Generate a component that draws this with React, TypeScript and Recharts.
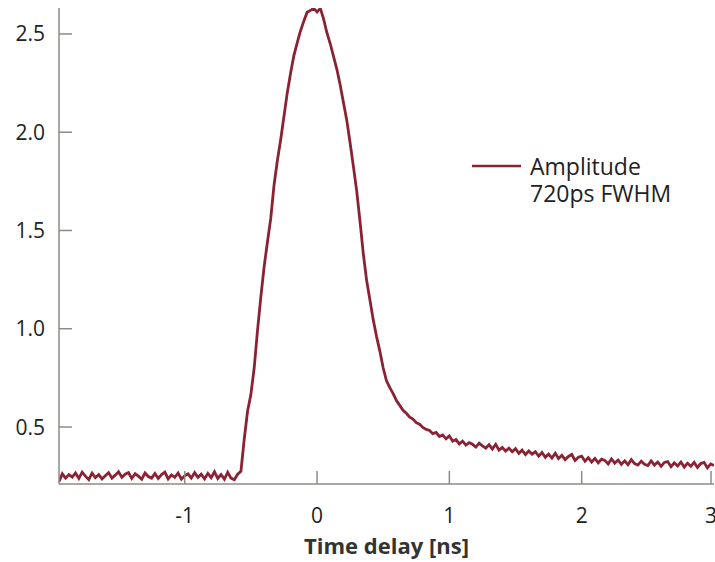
import React from 'react';
import { LineChart, Line, XAxis, YAxis, Legend } from 'recharts';

// sample grid of the time axis (ns)
const timeStart = -1.95;
const timeStep = 0.025;

// measured amplitude at each sample
const amplitude: number[] = [
  0.222, 0.262, 0.240, 0.258, 0.245, 0.266, 0.238, 0.270, 0.250, 0.232,
  0.265, 0.242, 0.258, 0.236, 0.252, 0.268, 0.240, 0.255, 0.272, 0.244,
  0.260, 0.268, 0.238, 0.262, 0.250, 0.234, 0.266, 0.248, 0.240, 0.264,
  0.238, 0.258, 0.270, 0.236, 0.256, 0.244, 0.266, 0.235, 0.252, 0.262,
  0.240, 0.268, 0.244, 0.260, 0.236, 0.264, 0.242, 0.272, 0.238, 0.258,
  0.234, 0.270, 0.240, 0.232, 0.260, 0.275, 0.440, 0.580, 0.665, 0.800,
  0.990, 1.160, 1.315, 1.440, 1.560, 1.730, 1.855, 1.960, 2.080, 2.200,
  2.300, 2.390, 2.455, 2.515, 2.565, 2.610, 2.620, 2.630, 2.612, 2.630,
  2.575, 2.505, 2.450, 2.385, 2.320, 2.240, 2.150, 2.060, 1.945, 1.825,
  1.700, 1.545, 1.380, 1.245, 1.145, 1.045, 0.960, 0.885, 0.800, 0.735,
  0.700, 0.670, 0.635, 0.610, 0.585, 0.570, 0.550, 0.540, 0.522, 0.514,
  0.498, 0.488, 0.482, 0.466, 0.472, 0.452, 0.460, 0.440, 0.455, 0.428,
  0.436, 0.414, 0.428, 0.408, 0.420, 0.412, 0.398, 0.418, 0.404, 0.392,
  0.410, 0.388, 0.412, 0.382, 0.396, 0.378, 0.392, 0.374, 0.390, 0.366,
  0.382, 0.360, 0.378, 0.362, 0.374, 0.352, 0.370, 0.346, 0.362, 0.342,
  0.366, 0.340, 0.356, 0.334, 0.350, 0.360, 0.330, 0.346, 0.352, 0.326,
  0.344, 0.322, 0.340, 0.318, 0.336, 0.330, 0.312, 0.338, 0.316, 0.332,
  0.310, 0.328, 0.308, 0.334, 0.314, 0.306, 0.326, 0.310, 0.304, 0.328,
  0.306, 0.322, 0.300, 0.320, 0.324, 0.298, 0.318, 0.302, 0.322, 0.296,
  0.316, 0.300, 0.320, 0.294, 0.314, 0.320, 0.292, 0.312, 0.304,
];

const xTicks = [-1, 0, 1, 2, 3];
const yTicks = [0.5, 1.0, 1.5, 2.0, 2.5];
const xDomain: [number, number] = [-1.95, 3];
const yDomain: [number, number] = [0.21, 2.632];

const seriesName = 'Amplitude';
const legendLines = ['Amplitude', '720ps FWHM'];
const xLabel = 'Time delay [ns]';

const data = amplitude.map((v, i) => ({
  t: Math.round((timeStart + i * timeStep) * 1000) / 1000,
  v,
}));

const LINE_COLOR = '#8b2234';
const AXIS_COLOR = '#8c8c86';
const TEXT_COLOR = '#222';
const FONT = '"Open Sans", sans-serif';

const XTick = (props: any) => {
  const { x, y, payload } = props;
  const label = payload.value < 0 ? '-' + Math.abs(payload.value) : String(payload.value);
  return (
    <g>
      <line x1={x} y1={y} x2={x} y2={y - 13} stroke={AXIS_COLOR} strokeWidth={1.5} />
      <text x={x} y={y + 39} textAnchor="middle" fontFamily={FONT} fontSize={21} fill={TEXT_COLOR}>
        {label}
      </text>
    </g>
  );
};

const YTick = (props: any) => {
  const { x, y, payload } = props;
  return (
    <g>
      <line x1={x} y1={y} x2={x + 13} y2={y} stroke={AXIS_COLOR} strokeWidth={1.5} />
      <text x={x - 14} y={y + 7.5} textAnchor="end" fontFamily={FONT} fontSize={21} fill={TEXT_COLOR}>
        {Number(payload.value).toFixed(1)}
      </text>
    </g>
  );
};

const renderLegend = () => (
  <div style={{ position: 'relative', fontFamily: FONT, fontSize: 23, color: TEXT_COLOR }}>
    <svg width={50} height={6} style={{ position: 'absolute', left: 0, top: 10 }}>
      <line x1={0} y1={3} x2={49} y2={3} stroke={LINE_COLOR} strokeWidth={2.5} />
    </svg>
    <div style={{ position: 'absolute', left: 58, top: 0, whiteSpace: 'nowrap', lineHeight: '26px', height: 26 }}>
      {legendLines[0]}
    </div>
    <div style={{ position: 'absolute', left: 58, top: 27, whiteSpace: 'nowrap', lineHeight: '26px', height: 26 }}>
      {legendLines[1]}
    </div>
  </div>
);

export default function App() {
  return (
    <div style={{ position: 'absolute', left: 0, top: 0, background: '#fff' }}>
      <LineChart width={715} height={562} data={data} margin={{ top: 8, right: 1, left: 0, bottom: 0 }}>
        <XAxis
          dataKey="t"
          type="number"
          domain={xDomain}
          ticks={xTicks}
          allowDataOverflow
          height={78}
          tickSize={0}
          tickMargin={0}
          tickLine={false}
          tick={<XTick />}
          axisLine={{ stroke: AXIS_COLOR, strokeWidth: 1.5 }}
          label={{
            value: xLabel,
            position: 'insideBottom',
            offset: 8,
            style: { fontFamily: FONT, fontSize: 22, fontWeight: 700, fill: '#333' },
          }}
        />
        <XAxis
          xAxisId="top"
          dataKey="t"
          type="number"
          orientation="top"
          domain={xDomain}
          allowDataOverflow
          height={0}
          tick={false}
          tickLine={false}
          axisLine={{ stroke: AXIS_COLOR, strokeWidth: 1.5 }}
        />
        <YAxis
          type="number"
          domain={yDomain}
          ticks={yTicks}
          allowDataOverflow
          width={59}
          tickSize={0}
          tickMargin={0}
          tickLine={false}
          tick={<YTick />}
          axisLine={{ stroke: AXIS_COLOR, strokeWidth: 1.5 }}
        />
        <Legend
          layout="horizontal"
          verticalAlign="middle"
          align="center"
          content={renderLegend}
          wrapperStyle={{ position: 'absolute', left: 472, top: 153, width: 240, height: 60 }}
        />
        <Line
          type="linear"
          dataKey="v"
          name={seriesName}
          stroke={LINE_COLOR}
          strokeWidth={2.8}
          dot={false}
          isAnimationActive={false}
        />
      </LineChart>
    </div>
  );
}
